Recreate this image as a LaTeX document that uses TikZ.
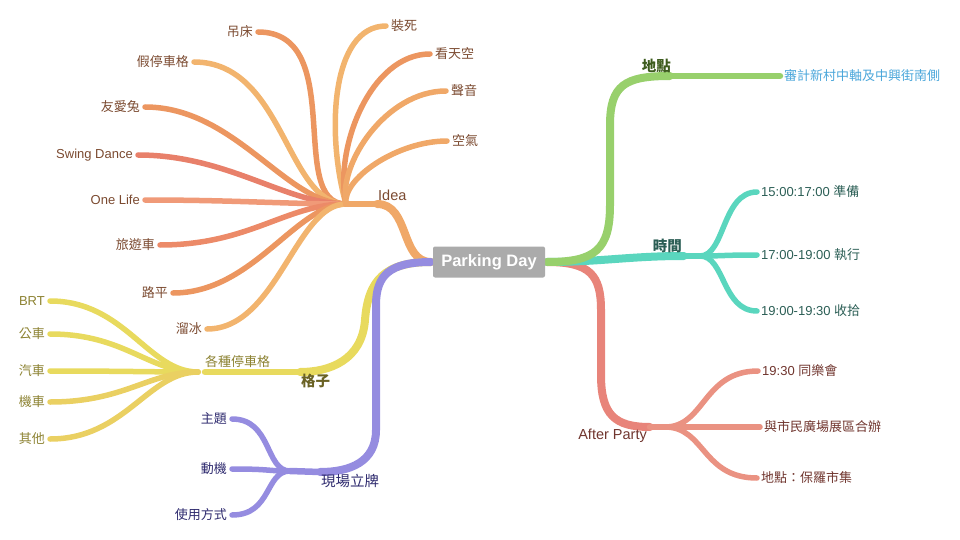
\documentclass[tikz,border=0pt]{standalone}
\usepackage{fontspec}
\usepackage{tikz}
\usetikzlibrary{positioning}
\setmainfont{Liberation Sans}
\newfontfamily\cjk{Noto Sans CJK TC}

\definecolor{ideaA}{HTML}{F0A868}
\definecolor{ideaB}{HTML}{EC9660}
\definecolor{ideaC}{HTML}{F2B46E}
\definecolor{ideaD}{HTML}{E8806A}
\definecolor{ideaE}{HTML}{F09A78}
\definecolor{ideaF}{HTML}{EC8A68}
\definecolor{ideaTxt}{HTML}{7B4A30}
\definecolor{gridA}{HTML}{E8DA5E}
\definecolor{gridB}{HTML}{EAD062}
\definecolor{gridTxt}{HTML}{8C8232}
\definecolor{gridDark}{HTML}{6A6224}
\definecolor{signA}{HTML}{958CE0}
\definecolor{signTxt}{HTML}{2E2A6E}
\definecolor{placeA}{HTML}{98D06C}
\definecolor{placeTxt}{HTML}{3D5C1E}
\definecolor{placeBlue}{HTML}{4AA6DA}
\definecolor{timeA}{HTML}{5AD6BE}
\definecolor{timeTxt}{HTML}{2B5E55}
\definecolor{partyA}{HTML}{E8847A}
\definecolor{partyB}{HTML}{EA9282}
\definecolor{partyTxt}{HTML}{70352E}
\definecolor{rootgrey}{HTML}{ABABAB}

\begin{document}
\begin{tikzpicture}[x=1pt,y=-1pt,
    br/.style={line cap=round,line width=8pt},
    sub/.style={line cap=round,line width=6.5pt},
    leaf/.style={line cap=round,line width=5.5pt},
    lbl/.style={inner sep=1pt,font=\fontsize{13}{15}\selectfont},
    big/.style={inner sep=1pt,font=\fontsize{14.5}{17}\selectfont}]
    \useasboundingbox (0,0) rectangle (960,540);

    % ports of the root
    \coordinate (rl) at (431,262);
    \coordinate (rr) at (547,262);

    % Idea
    \coordinate (idea) at (377,204);
    \coordinate (ideahub) at (346,204);
    \coordinate (hammock) at (258,32);
    \coordinate (fakespot) at (194,62);
    \coordinate (rabbit) at (145,107);
    \coordinate (swing) at (138,155);
    \coordinate (onelife) at (145,200);
    \coordinate (tourbus) at (160,245);
    \coordinate (flat) at (173,293);
    \coordinate (skate) at (207,329);
    \coordinate (playdead) at (386,26);
    \coordinate (sky) at (430,54);
    \coordinate (sound) at (446,91);
    \coordinate (air) at (447,141);
    \draw[leaf,ideaB] (ideahub) .. controls +(-60,0) and +(90,0) .. (hammock);
    \draw[leaf,ideaC] (ideahub) .. controls +(-60,0) and +(90,0) .. (fakespot);
    \draw[leaf,ideaB] (ideahub) .. controls +(-60,0) and +(90,0) .. (rabbit);
    \draw[leaf,ideaD] (ideahub) .. controls +(-60,0) and +(90,0) .. (swing);
    \draw[leaf,ideaE] (ideahub) .. controls +(-60,0) and +(90,0) .. (onelife);
    \draw[leaf,ideaF] (ideahub) .. controls +(-60,0) and +(90,0) .. (tourbus);
    \draw[leaf,ideaB] (ideahub) .. controls +(-50,0) and +(80,0) .. (flat);
    \draw[leaf,ideaC] (ideahub) .. controls +(-50,0) and +(70,0) .. (skate);
    \draw[leaf,ideaC] (ideahub) .. controls +(-20,-70) and +(-55,0) .. (playdead);
    \draw[leaf,ideaB] (ideahub) .. controls +(-12,-55) and +(-60,0) .. (sky);
    \draw[leaf,ideaA] (ideahub) .. controls +(-8,-40) and +(-60,0) .. (sound);
    \draw[leaf,ideaA] (ideahub) .. controls +(-4,-25) and +(-50,0) .. (air);
    \draw[sub,ideaA] (idea) -- (ideahub);
    \draw[br,ideaA] (rl) .. controls (400,262) and (410,204) .. (idea);
    \node[big,text=ideaTxt,anchor=south west] (ideaL) at (377,202) {Idea};
    \node[lbl,text=ideaTxt,left=4pt of hammock] (hammockL) {\cjk 吊床};
    \node[lbl,text=ideaTxt,left=4pt of fakespot] (fakespotL) {\cjk 假停車格};
    \node[lbl,text=ideaTxt,left=4pt of rabbit] (rabbitL) {\cjk 友愛兔};
    \node[lbl,text=ideaTxt,left=4pt of swing] (swingL) {Swing Dance};
    \node[lbl,text=ideaTxt,left=4pt of onelife] (onelifeL) {One Life};
    \node[lbl,text=ideaTxt,left=4pt of tourbus] (tourbusL) {\cjk 旅遊車};
    \node[lbl,text=ideaTxt,left=4pt of flat] (flatL) {\cjk 路平};
    \node[lbl,text=ideaTxt,left=4pt of skate] (skateL) {\cjk 溜冰};
    \node[lbl,text=ideaTxt,right=4pt of playdead] (playdeadL) {\cjk 裝死};
    \node[lbl,text=ideaTxt,right=4pt of sky] (skyL) {\cjk 看天空};
    \node[lbl,text=ideaTxt,right=4pt of sound] (soundL) {\cjk 聲音};
    \node[lbl,text=ideaTxt,right=4pt of air] (airL) {\cjk 空氣};

    % 格子
    \coordinate (grid) at (300,372);
    \coordinate (spots) at (205,372);
    \coordinate (spotshub) at (198,372);
    \coordinate (brt) at (50,301);
    \coordinate (bus) at (50,334);
    \coordinate (car) at (50,371);
    \coordinate (moto) at (50,402);
    \coordinate (other) at (50,439);
    \draw[leaf,gridA] (spotshub) .. controls +(-50,0) and +(75,0) .. (brt);
    \draw[leaf,gridA] (spotshub) .. controls +(-50,0) and +(75,0) .. (bus);
    \draw[leaf,gridA] (spotshub) .. controls +(-50,0) and +(75,0) .. (car);
    \draw[leaf,gridB] (spotshub) .. controls +(-50,0) and +(75,0) .. (moto);
    \draw[leaf,gridB] (spotshub) .. controls +(-50,0) and +(75,0) .. (other);
    \draw[sub,gridA] (grid) -- (spots);
    \draw[br,gridA] (rl) .. controls (385,262) and (368,280) .. (365,320)
      .. controls (362,360) and (330,372) .. (grid);
    \node[big,text=gridDark,font=\fontsize{14.5}{17}\selectfont\cjk\bfseries,anchor=north west] (gridL) at (300,373) {格子};
    \node[lbl,text=gridTxt,anchor=south west] (spotsL) at (204,369) {\cjk 各種停車格};
    \node[lbl,text=gridTxt,left=4pt of brt] (brtL) {BRT};
    \node[lbl,text=gridTxt,left=4pt of bus] (busL) {\cjk 公車};
    \node[lbl,text=gridTxt,left=4pt of car] (carL) {\cjk 汽車};
    \node[lbl,text=gridTxt,left=4pt of moto] (motoL) {\cjk 機車};
    \node[lbl,text=gridTxt,left=4pt of other] (otherL) {\cjk 其他};

    % 現場立牌
    \coordinate (sign) at (320,472);
    \coordinate (signhub) at (290,471);
    \coordinate (theme) at (232,419);
    \coordinate (motive) at (232,469);
    \coordinate (usage) at (232,515);
    \draw[leaf,signA] (signhub) .. controls +(-25,0) and +(40,0) .. (theme);
    \draw[leaf,signA] (signhub) .. controls +(-25,0) and +(40,0) .. (motive);
    \draw[leaf,signA] (signhub) .. controls +(-25,0) and +(40,0) .. (usage);
    \draw[sub,signA] (sign) -- (signhub);
    \draw[br,signA] (rl) .. controls (390,262) and (376,275) .. (376,305)
      -- (376,430) .. controls (376,462) and (350,472) .. (sign);
    \node[big,text=signTxt,anchor=north west] (signL) at (320,473) {\cjk 現場立牌};
    \node[lbl,text=signTxt,left=4pt of theme] (themeL) {\cjk 主題};
    \node[lbl,text=signTxt,left=4pt of motive] (motiveL) {\cjk 動機};
    \node[lbl,text=signTxt,left=4pt of usage] (usageL) {\cjk 使用方式};

    % After Party
    \coordinate (party) at (650,427);
    \coordinate (partyhub) at (665,427);
    \coordinate (jam) at (758,371);
    \coordinate (square) at (760,427);
    \coordinate (market) at (757,478);
    \draw[br,partyA] (rr) .. controls (590,262) and (601,275) .. (601,310)
      -- (601,375) .. controls (601,415) and (615,427) .. (party);
    \draw[sub,partyB] (party) -- (partyhub);
    \draw[leaf,partyB] (partyhub) .. controls +(40,0) and +(-55,0) .. (jam);
    \draw[leaf,partyB] (partyhub) .. controls +(40,0) and +(-55,0) .. (square);
    \draw[leaf,partyB] (partyhub) .. controls +(40,0) and +(-55,0) .. (market);
    \node[big,text=partyTxt,anchor=north east] (partyL) at (648,428) {After Party};
    \node[lbl,text=partyTxt,right=3pt of jam] (jamL) {19:30 {\cjk 同樂會}};
    \node[lbl,text=partyTxt,right=3pt of square] (squareL) {\cjk 與市民廣場展區合辦};
    \node[lbl,text=partyTxt,right=3pt of market] (marketL) {\cjk 地點：保羅市集};

    % 時間
    \coordinate (time) at (684,256);
    \coordinate (timehub) at (700,256);
    \coordinate (prep) at (757,192);
    \coordinate (run) at (757,255);
    \coordinate (pack) at (757,311);
    \draw[br,timeA] (rr) .. controls (600,262) and (630,256) .. (time);
    \draw[sub,timeA] (time) -- (timehub);
    \draw[leaf,timeA] (timehub) .. controls +(25,0) and +(-35,0) .. (prep);
    \draw[leaf,timeA] (timehub) .. controls +(25,0) and +(-35,0) .. (run);
    \draw[leaf,timeA] (timehub) .. controls +(25,0) and +(-35,0) .. (pack);
    \node[big,text=timeTxt,font=\fontsize{14.5}{17}\selectfont\cjk\bfseries,anchor=south east] (timeL) at (683,254) {時間};
    \node[lbl,text=timeTxt,right=3pt of prep] (prepL) {15:00:17:00 {\cjk 準備}};
    \node[lbl,text=timeTxt,right=3pt of run] (runL) {17:00-19:00 {\cjk 執行}};
    \node[lbl,text=timeTxt,right=3pt of pack] (packL) {19:00-19:30 {\cjk 收拾}};

    % 地點
    \coordinate (place) at (670,76);
    \coordinate (placeend) at (780,76);
    \draw[br,placeA] (rr) .. controls (595,262) and (610,250) .. (610,205)
      -- (610,125) .. controls (610,85) and (625,76) .. (place);
    \draw[sub,placeA] (place) -- (placeend);
    \node[big,text=placeTxt,font=\fontsize{14.5}{17}\selectfont\cjk\bfseries,anchor=south east] (placeL) at (672,74) {地點};
    \node[lbl,text=placeBlue,right=3pt of placeend] (placeendL) {\cjk 審計新村中軸及中興街南側};

    % root
    \node[fill=rootgrey,rounded corners=2pt,minimum width=112pt,minimum height=31pt,
      text=white,font=\fontsize{16.5}{19}\selectfont\bfseries] (root) at (489,262) {Parking Day};
\end{tikzpicture}
\end{document}
